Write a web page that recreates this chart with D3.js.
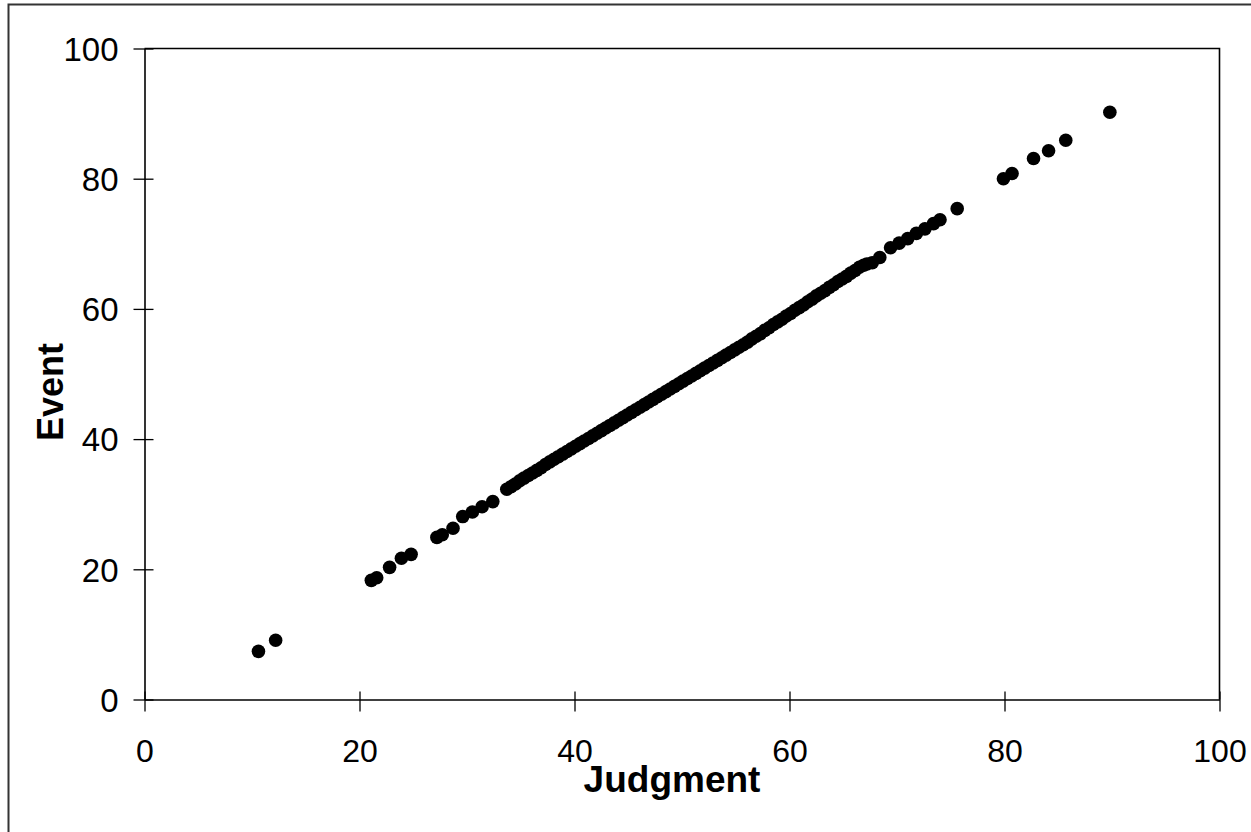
<!DOCTYPE html>
<html>
<head>
<meta charset="utf-8">
<script src="https://cdn.jsdelivr.net/npm/d3@7"></script>
<style>
  html, body { margin: 0; padding: 0; background: #fff; }
  svg { display: block; }
</style>
</head>
<body>
<svg id="chart" width="1251" height="832"></svg>
<script>
// ---- Data ----
const judgment = [
  10.6, 12.2, 21.1, 21.6, 22.8, 23.9, 24.8, 27.2, 27.7, 28.7,
  29.6, 30.5, 31.4, 32.4,
  33.7, 34.1, 34.5, 34.9, 35.3, 35.7, 36.1, 36.5, 36.9, 37.3,
  37.7, 38.1, 38.5, 38.9, 39.3, 39.7, 40.1, 40.5, 40.9, 41.3,
  41.7, 42.1, 42.5, 42.9, 43.3, 43.7, 44.1, 44.5, 44.9, 45.3,
  45.7, 46.1, 46.5, 46.9, 47.3, 47.7, 48.1, 48.5, 48.9, 49.3,
  49.7, 50.1, 50.5, 50.9, 51.3, 51.7, 52.1, 52.5, 52.9, 53.3,
  53.7, 54.1, 54.5, 54.9, 55.3, 55.7, 56.1, 56.5, 56.9, 57.3,
  57.7, 58.1, 58.5, 58.9, 59.3, 59.7, 60.1, 60.5, 60.9, 61.3,
  61.7, 62.1, 62.5, 62.9, 63.3, 63.7, 64.1, 64.5, 64.9, 65.3,
  65.7, 66.1, 66.5, 66.9, 67.2, 67.7,
  68.4, 69.4, 70.2, 71.0, 71.8, 72.6, 73.4, 74.0, 75.6,
  79.9, 80.7, 82.7, 84.1, 85.7, 89.8
];
const event = [
  7.4, 9.1, 18.3, 18.7, 20.3, 21.7, 22.3, 24.9, 25.3, 26.3,
  28.1, 28.8, 29.6, 30.4,
  32.3, 32.7, 33.1, 33.6, 34.0, 34.4, 34.8, 35.2, 35.6, 36.1,
  36.5, 36.9, 37.3, 37.7, 38.1, 38.5, 38.9, 39.3, 39.7, 40.1,
  40.5, 40.9, 41.3, 41.7, 42.1, 42.5, 42.9, 43.3, 43.7, 44.1,
  44.5, 44.9, 45.3, 45.7, 46.1, 46.5, 46.9, 47.3, 47.7, 48.1,
  48.5, 48.9, 49.3, 49.7, 50.1, 50.5, 50.9, 51.3, 51.7, 52.1,
  52.5, 52.9, 53.3, 53.7, 54.1, 54.5, 54.9, 55.4, 55.8, 56.2,
  56.7, 57.1, 57.6, 58.0, 58.4, 58.9, 59.3, 59.8, 60.2, 60.6,
  61.1, 61.5, 62.0, 62.4, 62.8, 63.3, 63.7, 64.2, 64.6, 65.0,
  65.5, 65.9, 66.4, 66.7, 66.9, 67.1,
  67.9, 69.4, 70.1, 70.8, 71.6, 72.3, 73.1, 73.7, 75.4,
  80.0, 80.8, 83.1, 84.3, 85.9, 90.2
];
const xTicks = [0, 20, 40, 60, 80, 100];
const yTicks = [0, 20, 40, 60, 80, 100];
const xTitle = "Judgment";
const yTitle = "Event";

const points = judgment.map((j, i) => ({ x: j, y: event[i] }));

// ---- Layout ----
const svg = d3.select("#chart");
const plotL = 144.5, plotR = 1219.5, plotT = 48.5, plotB = 699.5;

const x = d3.scaleLinear().domain([0, 100]).range([plotL, plotR]);
const y = d3.scaleLinear().domain([0, 100]).range([plotB, plotT]);

// outer frame (extends past the window on the right and bottom)
svg.append("rect")
  .attr("x", 8.5).attr("y", 4.5)
  .attr("width", 1260).attr("height", 840)
  .attr("fill", "none").attr("stroke", "#333").attr("stroke-width", 2);

// plot box top and right edges
svg.append("path")
  .attr("d", `M${plotL},${plotT}H${plotR}V${plotB}`)
  .attr("fill", "none").attr("stroke", "#000").attr("stroke-width", 1.6);

const font = "'Liberation Sans', Arial, sans-serif";

// x axis
const gx = svg.append("g")
  .attr("transform", `translate(0,${plotB})`)
  .call(d3.axisBottom(x).tickValues(xTicks).tickSizeInner(12).tickSizeOuter(0).tickPadding(0));
gx.select(".domain").attr("stroke", "#000").attr("stroke-width", 1.6);
gx.selectAll(".tick line").attr("y1", -8).attr("stroke", "#000").attr("stroke-width", 1.3);
gx.selectAll(".tick text")
  .attr("y", 62).attr("dy", 0)
  .attr("font-family", font).attr("font-size", 32)
  .attr("fill", "#000").attr("text-anchor", "middle");

// y axis
const gy = svg.append("g")
  .attr("transform", `translate(${plotL},0)`)
  .call(d3.axisLeft(y).tickValues(yTicks).tickSizeInner(11).tickSizeOuter(0).tickPadding(0));
gy.select(".domain").attr("stroke", "#000").attr("stroke-width", 1.6);
gy.selectAll(".tick line").attr("x1", 9).attr("stroke", "#000").attr("stroke-width", 1.3);
gy.selectAll(".tick text")
  .attr("x", -26).attr("dy", "0.36em")
  .attr("font-family", font).attr("font-size", 33)
  .attr("fill", "#000").attr("text-anchor", "end");

// points
svg.append("g")
  .selectAll("circle")
  .data(points)
  .join("circle")
  .attr("cx", d => x(d.x))
  .attr("cy", d => y(d.y))
  .attr("r", 6.8)
  .attr("fill", "#000");

// axis titles
svg.append("text")
  .attr("transform", "translate(672,792)")
  .attr("text-anchor", "middle")
  .attr("font-family", font).attr("font-weight", "bold").attr("font-size", 37)
  .attr("fill", "#000")
  .text(xTitle);

svg.append("text")
  .attr("transform", "translate(63,392) rotate(-90)")
  .attr("text-anchor", "middle")
  .attr("font-family", font).attr("font-weight", "bold").attr("font-size", 36)
  .attr("fill", "#000")
  .text(yTitle);
</script>
</body>
</html>
